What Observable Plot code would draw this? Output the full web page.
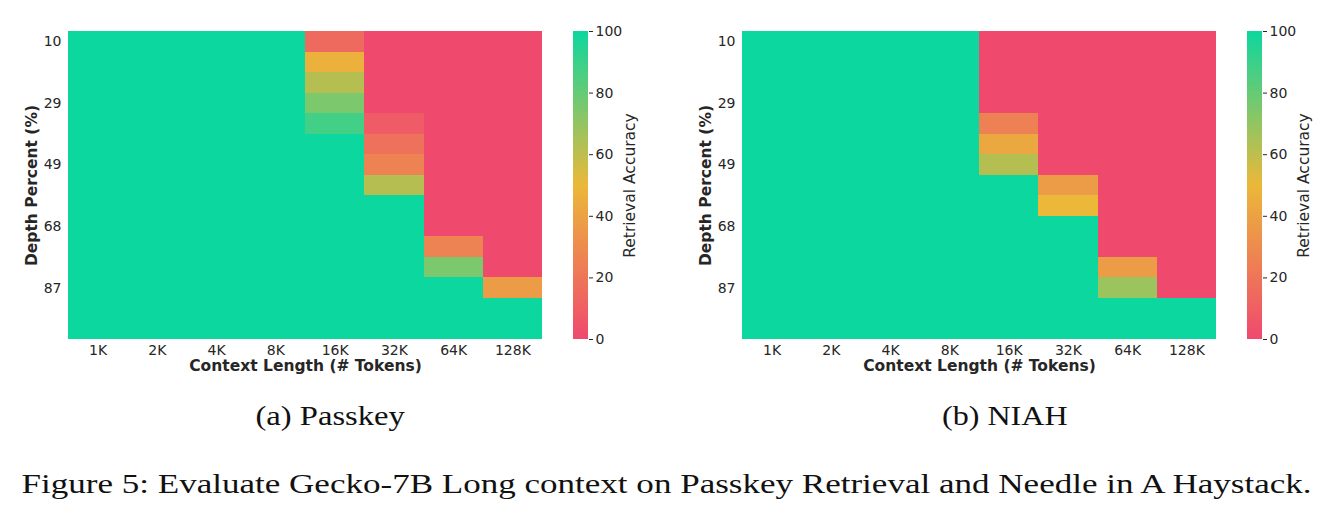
<!DOCTYPE html>
<html><head><meta charset="utf-8">
<script src="https://cdn.jsdelivr.net/npm/d3@7"></script>
<script src="https://cdn.jsdelivr.net/npm/@observablehq/plot@0.6"></script>
<style>
body{margin:0;background:#fff;}
#root{position:relative;width:1332px;height:516px;overflow:hidden;background:#fff;}
.abs{position:absolute;top:0;}
.cap{position:absolute;font-family:"Liberation Serif","DejaVu Serif",serif;color:#111;white-space:nowrap;line-height:1;font-size:28px;}
</style></head><body><div id="root"></div>
<script>
const contexts = ["1K","2K","4K","8K","16K","32K","64K","128K"];
const depths = [10,16,23,29,36,42,49,55,61,68,74,81,87,94,100];
const depthTicks = [10,29,49,68,87];
const colorbarTicks = [0,20,40,60,80,100];
const cmapColors = ["#F0496E","#EBB839","#0CD79F"];

// Passkey: accuracy per depth row, one array per context length
const passkey_1K   = [100,100,100,100,100,100,100,100,100,100,100,100,100,100,100];
const passkey_2K   = [100,100,100,100,100,100,100,100,100,100,100,100,100,100,100];
const passkey_4K   = [100,100,100,100,100,100,100,100,100,100,100,100,100,100,100];
const passkey_8K   = [100,100,100,100,100,100,100,100,100,100,100,100,100,100,100];
const passkey_16K  = [15,47,62,75,88,100,100,100,100,100,100,100,100,100,100];
const passkey_32K  = [0,0,0,0,8,18,26,62,100,100,100,100,100,100,100];
const passkey_64K  = [0,0,0,0,0,0,0,0,0,0,26,75,100,100,100];
const passkey_128K = [0,0,0,0,0,0,0,0,0,0,0,0,37,100,100];

// NIAH
const niah_1K   = [100,100,100,100,100,100,100,100,100,100,100,100,100,100,100];
const niah_2K   = [100,100,100,100,100,100,100,100,100,100,100,100,100,100,100];
const niah_4K   = [100,100,100,100,100,100,100,100,100,100,100,100,100,100,100];
const niah_8K   = [100,100,100,100,100,100,100,100,100,100,100,100,100,100,100];
const niah_16K  = [0,0,0,0,25,43,62,100,100,100,100,100,100,100,100];
const niah_32K  = [0,0,0,0,0,0,0,37,50,100,100,100,100,100,100];
const niah_64K  = [0,0,0,0,0,0,0,0,0,0,0,37,68,100,100];
const niah_128K = [0,0,0,0,0,0,0,0,0,0,0,0,0,100,100];

const passkeyCols = [passkey_1K,passkey_2K,passkey_4K,passkey_8K,passkey_16K,passkey_32K,passkey_64K,passkey_128K];
const niahCols = [niah_1K,niah_2K,niah_4K,niah_8K,niah_16K,niah_32K,niah_64K,niah_128K];

function toTable(cols){
  const out = [];
  cols.forEach((col, i) => col.forEach((v, j) => out.push({context: contexts[i], depth: depths[j], value: v})));
  return out;
}

const colorScale = {type:"linear", domain:[0,50,100], range:cmapColors, interpolate:"rgb"};
const textColor = "#262626";
const tickFont = 14;
const labelFont = 15.5;

function heatmap(data){
  return Plot.plot({
    width:560, height:385, marginLeft:68, marginRight:18, marginTop:31, marginBottom:46,
    style:{fontFamily:"DejaVu Sans", fontSize:tickFont+"px", color:textColor, background:"transparent", overflow:"visible"},
    x:{type:"band", domain:contexts, padding:0, round:false, label:null},
    y:{type:"band", domain:depths, padding:0, round:false, label:null},
    color:colorScale,
    marks:[
      Plot.cell(data, {x:"context", y:"depth", fill:"value", inset:0, shapeRendering:"crispEdges"}),
      Plot.axisX({tickSize:0, tickPadding:6, label:null, fontSize:tickFont}),
      Plot.axisY({ticks:depthTicks, tickSize:0, tickPadding:7, label:null, fontSize:tickFont}),
      Plot.text(["Context Length (# Tokens)"], {text:d=>d, frameAnchor:"bottom", textAnchor:"middle", dy:31, fontWeight:"bold", fontSize:labelFont, fill:textColor}),
      Plot.text(["Depth Percent (%)"], {text:d=>d, frameAnchor:"left", textAnchor:"middle", dx:-36, rotate:-90, fontWeight:"bold", fontSize:labelFont, fill:textColor})
    ]
  });
}

function colorbar(){
  const steps = d3.range(0, 100, 0.25);
  return Plot.plot({
    width:90, height:385, marginLeft:13, marginRight:62, marginTop:31, marginBottom:46,
    style:{fontFamily:"DejaVu Sans", fontSize:tickFont+"px", color:textColor, background:"transparent", overflow:"visible"},
    x:{domain:[0,1], axis:null},
    y:{domain:[0,100], label:null},
    color:colorScale,
    marks:[
      Plot.rect(steps, {x1:()=>0, x2:()=>1, y1:d=>d, y2:d=>d+0.26, fill:d=>d+0.125, shapeRendering:"crispEdges"}),
      Plot.axisY({anchor:"right", ticks:colorbarTicks, tickSize:4, tickPadding:3, label:null, fontSize:tickFont}),
      Plot.text(["Retrieval Accuracy"], {text:d=>d, frameAnchor:"right", textAnchor:"middle", dx:42, rotate:-90, fontSize:labelFont, fill:textColor})
    ]
  });
}

const root = document.getElementById("root");
function place(el, left){ el.classList.add("abs"); el.style.left = left + "px"; root.appendChild(el); }
place(heatmap(toTable(passkeyCols)), 0);
place(colorbar(), 560);
place(heatmap(toTable(niahCols)), 674);
place(colorbar(), 1234);

function caption(text, cx, cy, targetW){
  const d = document.createElement("div");
  d.className = "cap";
  d.textContent = text;
  root.appendChild(d);
  const w = d.offsetWidth, h = d.offsetHeight;
  const s = targetW / w;
  d.style.left = (cx - w/2) + "px";
  d.style.top = (cy - h/2) + "px";
  d.style.transform = `scaleX(${s})`;
}
caption("(a) Passkey", 330, 416, 149);
caption("(b) NIAH", 1005, 416, 126);
caption("Figure 5: Evaluate Gecko-7B Long context on Passkey Retrieval and Needle in A Haystack.", 666, 484, 1290);
</script></body></html>
